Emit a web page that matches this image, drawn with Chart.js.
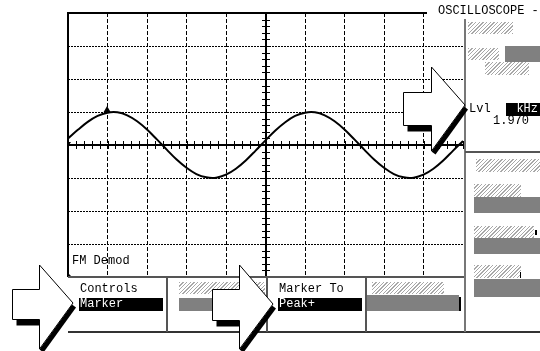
<!DOCTYPE html>
<html>
<head>
<meta charset="utf-8">
<script src="https://cdn.jsdelivr.net/npm/chart.js@4.4.0/dist/chart.umd.min.js"></script>
<style>
  html, body { margin: 0; padding: 0; background: #fff; }
  #wrap { position: relative; width: 540px; height: 351px; overflow: hidden; }
  #scope { position: absolute; left: 0; top: 0; }
  .txt { position: absolute; font: 12px "Liberation Mono", "DejaVu Sans Mono", monospace; line-height: 13px; color: #000; white-space: pre; }
  .inv { background: #000; color: #fff; padding-left: 1px; box-sizing: border-box; }
  .hatch { position: absolute; background: repeating-linear-gradient(135deg, #a8a8a8 0 1px, #fff 1px 2.6px); }
  .fill { position: absolute; background: #808080; }
  svg { position: absolute; left: 0; top: 0; }
</style>
</head>
<body>
<div id="wrap">
  <canvas id="scope" width="540" height="351"></canvas>
  <div id="boxes"></div>
  <div class="txt" style="left:438px;top:5px;">OSCILLOSCOPE -</div>
  <div class="txt" style="left:72px;top:255px;">FM Demod</div>
  <div class="txt" style="left:80px;top:283px;">Controls</div>
  <div class="txt inv" style="left:79px;top:298px;width:84px;height:13px;">Marker</div>
  <div class="txt" style="left:279px;top:283px;">Marker To</div>
  <div class="txt inv" style="left:278px;top:298px;width:84px;height:13px;">Peak+</div>
  <div class="txt" style="left:469px;top:103px;">Lvl</div>
  <div class="txt inv" style="left:506px;top:103px;width:34px;height:13px;text-align:right;padding-right:2px;">kHz</div>
  <div class="txt" style="left:493px;top:115px;">1.970</div>
  <svg id="overlay" width="540" height="351"></svg>
</div>
<script>
// trace samples, in screen divisions (x: 0..10, y: -4..4)
const traceX = [0, 0.25, 0.5, 0.75, 1, 1.25, 1.5, 1.75, 2, 2.25, 2.5, 2.75, 3, 3.25, 3.5, 3.75, 4, 4.25, 4.5, 4.75,
                5, 5.25, 5.5, 5.75, 6, 6.25, 6.5, 6.75, 7, 7.25, 7.5, 7.75, 8, 8.25, 8.5, 8.75, 9, 9.25, 9.5, 9.75, 10];
const traceY = [0.2, 0.46, 0.7, 0.88, 0.98, 0.99, 0.9, 0.72, 0.47, 0.17, -0.14, -0.44, -0.69, -0.88, -0.98, -0.99, -0.9, -0.72, -0.47, -0.17,
                0.14, 0.44, 0.69, 0.88, 0.98, 0.99, 0.9, 0.72, 0.47, 0.17, -0.14, -0.44, -0.69, -0.88, -0.98, -0.99, -0.9, -0.72, -0.47, -0.17, 0.12];
const markerX = [0.99];
const markerY = [1.06];
const divsX = 10, divsY = 4;

// screen furniture (pixels)
const hatchBoxes = [[468, 22, 45, 12], [468, 48, 31, 12], [485, 62, 44, 13], [476, 159, 64, 13], [474, 184, 47, 13],
                    [474, 226, 60, 12], [474, 265, 47, 13], [179, 282, 86, 12], [372, 282, 72, 12]];
const grayBoxes = [[505, 46, 35, 16], [474, 197, 66, 16], [474, 238, 66, 16], [474, 279, 66, 18], [179, 298, 86, 13], [367, 295, 92, 16]];

const boxDiv = document.getElementById('boxes');
hatchBoxes.forEach(b => {
    const d = document.createElement('div');
    d.className = 'hatch';
    d.style.cssText = `left:${b[0]}px;top:${b[1]}px;width:${b[2]}px;height:${b[3]}px;`;
    boxDiv.appendChild(d);
});
grayBoxes.forEach(b => {
    const d = document.createElement('div');
    d.className = 'fill';
    d.style.cssText = `left:${b[0]}px;top:${b[1]}px;width:${b[2]}px;height:${b[3]}px;`;
    boxDiv.appendChild(d);
});

// panel lines + arrows
const svg = document.getElementById('overlay');
let svgHtml = '';
const rect = (x, y, w, h, c) => { svgHtml += `<rect x="${x}" y="${y}" width="${w}" height="${h}" fill="${c}" shape-rendering="crispEdges"/>`; };
rect(68, 276, 397, 2, '#555');
rect(68, 331, 472, 2, '#333');
rect(166, 277, 2, 55, '#555');
rect(266, 277, 2, 55, '#555');
rect(365, 277, 2, 55, '#555');
rect(464, 19, 2, 313, '#777');
rect(465, 151, 75, 2, '#555');
rect(459, 297, 2, 14, '#000');
rect(520, 272, 1, 6, '#000');
rect(535, 230, 2, 5, '#000');

function arrow(sx, bx, tipX, topY, tipY, botY, shTop, shBot) {
    svgHtml += `<rect x="${sx + 4}" y="${shBot}" width="${bx - sx - 4}" height="6" fill="#000"/>`;
    svgHtml += `<line x1="${tipX + 1}" y1="${tipY + 3}" x2="${bx + 2}" y2="${botY + 2}" stroke="#000" stroke-width="5"/>`;
    svgHtml += `<polygon points="${sx},${shTop} ${bx},${shTop} ${bx},${topY} ${tipX},${tipY} ${bx},${botY} ${bx},${shBot} ${sx},${shBot}" fill="#fff" stroke="#000" stroke-width="1"/>`;
}
arrow(12.5, 39.5, 73, 265, 303, 349, 289.5, 319.5);
arrow(212.5, 239.5, 273, 265, 304, 349, 289.5, 320.5);
arrow(403.5, 431.5, 465, 67, 105, 151, 92.5, 125.5);
svg.innerHTML = svgHtml;

const scopeDecor = {
    id: 'scopeDecor',
    beforeDatasetsDraw(chart) {
        const { ctx, chartArea: a, scales: { x, y } } = chart;
        const cx = Math.round(x.getPixelForValue(5));
        const cy = Math.round(y.getPixelForValue(0));
        ctx.save();
        ctx.fillStyle = '#000';
        // borders
        ctx.fillRect(a.left - 1, a.top - 1, 428 - a.left, 2);
        ctx.fillRect(a.left - 1, a.top - 1, 2, a.bottom - a.top + 1);
        // centre axes
        ctx.fillRect(a.left, cy - 1, a.right - a.left, 2);
        ctx.fillRect(cx - 1, a.top, 2, a.bottom - a.top);
        for (let i = 0; i <= divsX * 5; i++) {
            const px = Math.round(x.getPixelForValue(i / 5));
            ctx.fillRect(px, cy - 4, 1, 8);
        }
        for (let i = -divsY * 5; i <= divsY * 5; i++) {
            const py = Math.round(y.getPixelForValue(i / 5));
            ctx.fillRect(cx - 4, py, 8, 1);
        }
        // small corner marks
        const tri = (px, py, dx, dy) => {
            ctx.beginPath();
            ctx.moveTo(px, py); ctx.lineTo(px + dx, py); ctx.lineTo(px, py + dy);
            ctx.closePath(); ctx.fill();
        };
        tri(a.left - 1, a.top - 1, 4, 4);
        tri(a.left - 1, cy - 3, 4, 6);
        tri(a.left - 1, a.bottom - 1, 4, -4);
        ctx.restore();
    }
};

new Chart(document.getElementById('scope'), {
    type: 'line',
    data: {
        datasets: [
            {
                data: traceX.map((v, i) => ({ x: v, y: traceY[i] })),
                borderColor: '#000',
                borderWidth: 2,
                pointRadius: 0,
                tension: 0.35,
                fill: false
            },
            {
                data: markerX.map((v, i) => ({ x: v, y: markerY[i] })),
                showLine: false,
                pointStyle: 'triangle',
                pointRadius: 4,
                backgroundColor: '#000',
                borderColor: '#000',
                borderWidth: 0
            }
        ]
    },
    options: {
        responsive: false,
        animation: false,
        events: [],
        layout: { padding: { left: 68, top: 13, right: 77, bottom: 74 } },
        plugins: { legend: { display: false }, tooltip: { enabled: false } },
        scales: {
            x: {
                type: 'linear', min: 0, max: divsX,
                ticks: { display: false, stepSize: 1 },
                grid: {
                    drawTicks: false, lineWidth: 1,
                    color: c => (c.tick.value % 5 === 0) ? 'rgba(0,0,0,0)' : '#000'
                },
                border: { display: false, dash: [4, 2] }
            },
            y: {
                type: 'linear', min: -divsY, max: divsY,
                ticks: { display: false, stepSize: 1 },
                grid: {
                    drawTicks: false, lineWidth: 1,
                    color: c => (Math.abs(c.tick.value) === divsY || c.tick.value === 0) ? 'rgba(0,0,0,0)' : '#000'
                },
                border: { display: false, dash: [2, 1] }
            }
        }
    },
    plugins: [scopeDecor]
});
</script>
</body>
</html>
